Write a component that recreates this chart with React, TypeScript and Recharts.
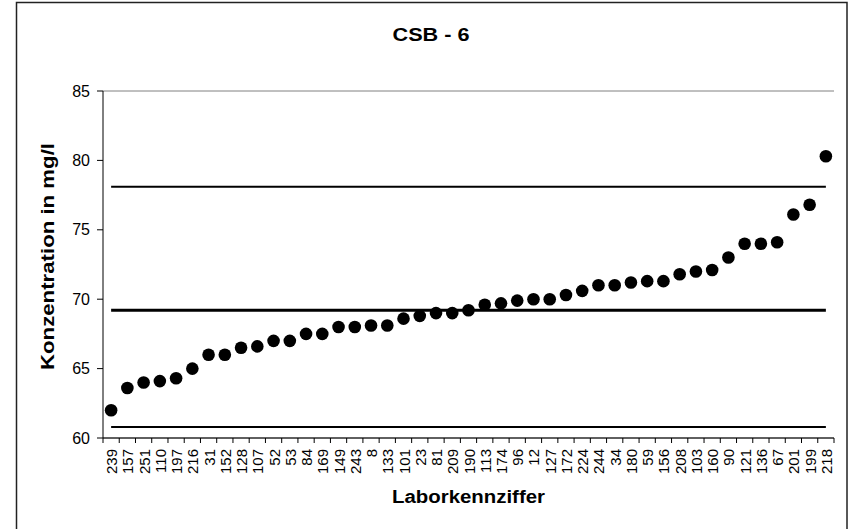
import React from 'react';
import { ComposedChart, Line, XAxis, YAxis, CartesianGrid } from 'recharts';

const labs = ['239','157','251','110','197','216','31','152','128','107','52','53','84','169','149','243','8','133','101','23','81','209','190','113','174','96','12','127','172','224','244','34','180','59','156','208','103','160','90','121','136','67','201','199','218'];
const values = [62.0,63.6,64.0,64.1,64.3,65.0,66.0,66.0,66.5,66.6,67.0,67.0,67.5,67.5,68.0,68.0,68.1,68.1,68.6,68.8,69.0,69.0,69.2,69.6,69.7,69.9,70.0,70.0,70.3,70.6,71.0,71.0,71.2,71.3,71.3,71.8,72.0,72.1,73.0,74.0,74.0,74.1,76.1,76.8,80.3];
const upperLimit = 78.1;
const meanValue = 69.2;
const lowerLimit = 60.8;
const yTicks = [60, 65, 70, 75, 80, 85];

const rows = labs.map((lab, i) => ({ lab, value: values[i], upper: upperLimit, mean: meanValue, lower: lowerLimit }));

const FONT = '"Liberation Sans", Arial, sans-serif';
const PLOT_LEFT = 103;
const PLOT_RIGHT = 834;
const AXIS_Y = 438;

const XTick = (props: any) => {
  const { x, payload, index } = props;
  const band = (PLOT_RIGHT - PLOT_LEFT) / labs.length;
  const isLast = index === labs.length - 1;
  return (
    <g>
      <line x1={x - band / 2} x2={x - band / 2} y1={AXIS_Y} y2={AXIS_Y + 5} stroke="#000" strokeWidth={1} />
      {isLast && <line x1={x + band / 2} x2={x + band / 2} y1={AXIS_Y} y2={AXIS_Y + 5} stroke="#000" strokeWidth={1} />}
      <text
        x={x + 6}
        y={AXIS_Y + 11}
        transform={`rotate(-90, ${x + 6}, ${AXIS_Y + 11})`}
        textAnchor="end"
        fontSize={15}
        fontFamily={FONT}
        fill="#000"
      >
        {payload.value}
      </text>
    </g>
  );
};

export default function App() {
  return (
    <div style={{ position: 'absolute', left: 0, top: 0, width: 852, height: 529, background: '#fff', overflow: 'hidden' }}>
      <ComposedChart width={852} height={529} data={rows} margin={{ top: 91, right: 18, bottom: 0, left: 43 }}>
        <CartesianGrid horizontal={true} vertical={false} stroke="#808080" strokeWidth={1} />
        <XAxis
          dataKey="lab"
          type="category"
          scale="band"
          interval={0}
          height={91}
          tickLine={false}
          tickSize={0}
          tickMargin={0}
          axisLine={{ stroke: '#000', strokeWidth: 1 }}
          tick={<XTick />}
        />
        <YAxis
          yAxisId="left"
          domain={[60, 85]}
          ticks={yTicks}
          width={60}
          interval={0}
          tickSize={6}
          tickMargin={7}
          tickLine={{ stroke: '#000' }}
          axisLine={{ stroke: '#000', strokeWidth: 1 }}
          tick={{ fontSize: 16, fontFamily: FONT, fill: '#000' }}
        />
        <YAxis
          yAxisId="right"
          orientation="right"
          domain={[60, 85]}
          width={0}
          tick={false}
          tickLine={false}
          axisLine={{ stroke: '#808080', strokeWidth: 1 }}
        />
        <Line yAxisId="left" dataKey="upper" stroke="#000" strokeWidth={2} dot={false} isAnimationActive={false} />
        <Line yAxisId="left" dataKey="mean" stroke="#000" strokeWidth={3} dot={false} isAnimationActive={false} />
        <Line yAxisId="left" dataKey="lower" stroke="#000" strokeWidth={2} dot={false} isAnimationActive={false} />
        <Line
          yAxisId="left"
          dataKey="value"
          stroke="none"
          strokeWidth={0}
          dot={{ r: 6.3, fill: '#000', stroke: 'none' }}
          activeDot={false}
          isAnimationActive={false}
        />
      </ComposedChart>
      <svg width={852} height={529} style={{ position: 'absolute', left: 0, top: 0, pointerEvents: 'none' }}>
        <rect x={16.5} y={2.5} width={830.5} height={560} fill="none" stroke="#222" strokeWidth={1.5} />
        <text x={431} y={41} textAnchor="middle" fontSize={18} fontWeight="bold" fontFamily={FONT} textLength={77} lengthAdjust="spacingAndGlyphs">CSB - 6</text>
        <text x={468.5} y={503} textAnchor="middle" fontSize={18} fontWeight="bold" fontFamily={FONT} textLength={153} lengthAdjust="spacingAndGlyphs">Laborkennziffer</text>
        <text x={54} y={256.5} transform="rotate(-90, 54, 256.5)" textAnchor="middle" fontSize={18} fontWeight="bold" fontFamily={FONT} textLength={227} lengthAdjust="spacingAndGlyphs">Konzentration in mg/l</text>
      </svg>
    </div>
  );
}
